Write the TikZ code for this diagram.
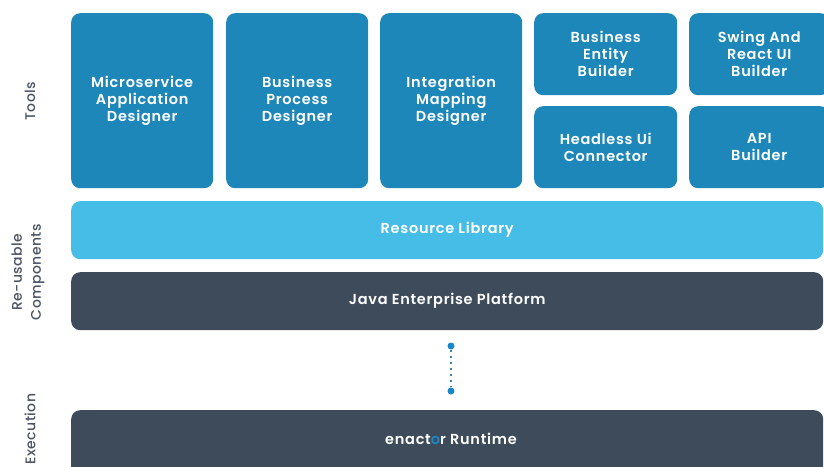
\documentclass[tikz,border=0pt]{standalone}
\usepackage{fontspec}
\setmainfont{Poppins}[BoldFont={* SemiBold}]
\newfontfamily\boxfont{Poppins SemiBold}[LetterSpace=5]
\newfontfamily\labfont{Poppins Medium}[LetterSpace=3]
\definecolor{toolblue}{HTML}{1C87B8}
\definecolor{libblue}{HTML}{45BDE6}
\definecolor{darkbar}{HTML}{3D4B5B}
\definecolor{labelgrey}{HTML}{4A5563}
\definecolor{dotblue}{HTML}{1A88C6}
\begin{document}
\begin{tikzpicture}[x=1pt,y=-1pt,
  tool/.style={fill=toolblue, rounded corners=9pt, anchor=north west, inner sep=0pt,
    text=white, font=\boxfont\fontsize{14.5}{17}\selectfont, align=center},
  bar/.style={rounded corners=9pt, anchor=north west, inner sep=0pt,
    text=white, font=\boxfont\fontsize{14.5}{17}\selectfont},
  sidelabel/.style={rotate=90, text=labelgrey, font=\labfont\fontsize{14}{19}\selectfont, align=center},
  enddot/.style={circle, fill=dotblue, inner sep=0pt, minimum size=7pt}]
\useasboundingbox (0,0) rectangle (824,466);
% tools
\node[tool, minimum width=142pt, minimum height=175pt] (ms) at (71,13) {Microservice\\Application\\Designer};
\node[tool, minimum width=142pt, minimum height=175pt] (bp) at (226,13) {Business\\Process\\Designer};
\node[tool, minimum width=142pt, minimum height=175pt] (im) at (380,13) {Integration\\Mapping\\Designer};
\node[tool, minimum width=143pt, minimum height=82pt] (be) at (534,13) {Business\\Entity\\Builder};
\node[tool, minimum width=143pt, minimum height=82pt] (hu) at (534,106) {Headless Ui\\Connector};
\node[tool, minimum width=140pt, minimum height=82pt] (sw) at (689,13) {Swing And\\React UI\\Builder};
\node[tool, minimum width=140pt, minimum height=82pt] (api) at (689,106) {API\\Builder};
% bars
\node[bar, fill=libblue, minimum width=752pt, minimum height=58pt] (rl) at (71,201) {Resource Library};
\node[bar, fill=darkbar, minimum width=752pt, minimum height=58pt] (je) at (71,272) {Java Enterprise Platform};
\node[bar, fill=darkbar, minimum width=752pt, minimum height=70pt] (rt) at (71,410) {};
\node[text=white, font=\boxfont\fontsize{14.5}{17}\selectfont] (rtlabel) at (451,439) {enact\textcolor{dotblue}{o}r Runtime};
% connector
\node[enddot] (d1) at (451,346) {};
\node[enddot] (d2) at (451,391) {};
\draw[dotblue!70!gray, line width=1.2pt, dash pattern=on 2pt off 4pt] (d1) -- (d2);
% side labels
\node[sidelabel] (ltools) at (30,101) {Tools};
\node[sidelabel] (lreuse) at (28,272) {Re-usable\\Components};
\node[sidelabel] (lexec) at (30,429) {Execution};
\end{tikzpicture}
\end{document}
